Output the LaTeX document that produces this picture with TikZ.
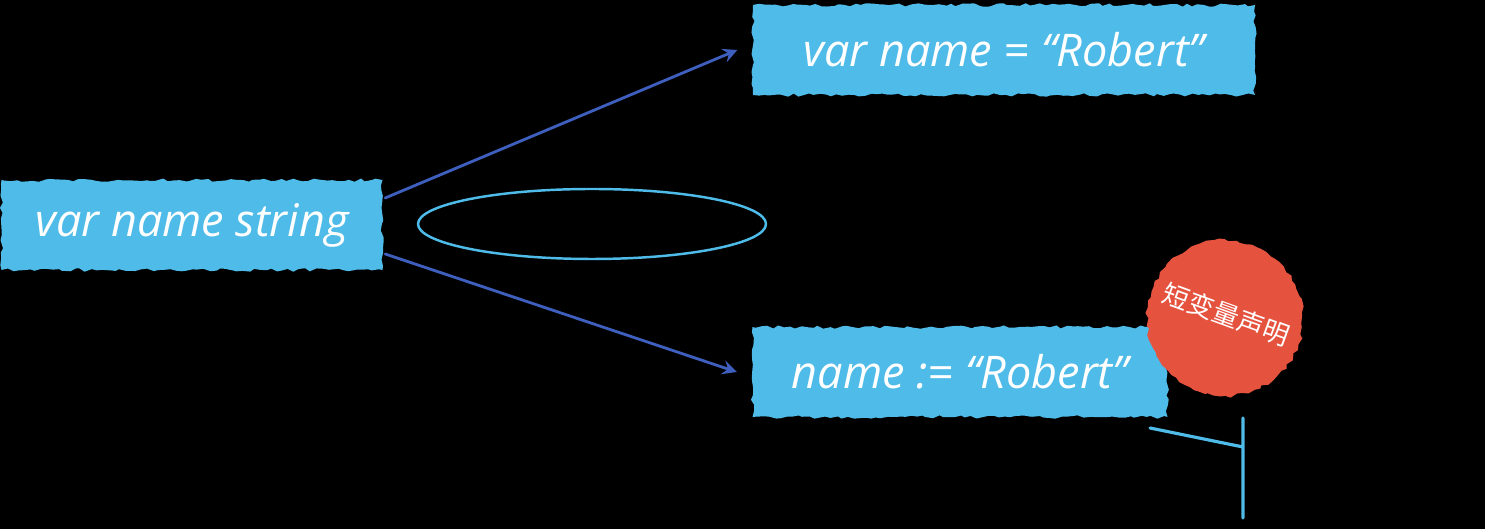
\documentclass[tikz,border=0pt]{standalone}
\usepackage{fontspec}
\setmainfont{Open Sans}
\newfontfamily\cjk{Noto Sans CJK SC}
\usetikzlibrary{shapes.geometric,decorations.pathmorphing}
\definecolor{boxblue}{HTML}{4FBBE8}
\definecolor{arrblue}{HTML}{3E5FBE}
\definecolor{stampred}{HTML}{E5533F}
\tikzset{
	codebox/.style={fill=boxblue,text=white,minimum height=0.9cm,inner sep=0pt,
		decorate,decoration={random steps,segment length=1.6pt,amplitude=0.5pt}},
	link/.style={arrblue,line width=0.8pt,->},
}
\begin{document}
\begin{tikzpicture}[font=\fontsize{12.8}{15}\selectfont\itshape,line join=round,line cap=round,>=stealth]
			\fill[black] (0,0) rectangle (14.85,5.29);
			\useasboundingbox (0,0) rectangle (14.85,5.29);
			\node[codebox,minimum width=3.81cm] (vs) at (1.92,3.04) {var name string};
			\node[codebox,minimum width=5.02cm] (vn) at (10.04,4.79) {var name = “Robert”};
			\node[codebox,minimum width=4.15cm] (nr) at (9.60,1.57) {name := “Robert”};
			\node[ellipse,draw=boxblue,line width=0.7pt,minimum width=3.48cm,minimum height=0.7cm] (el) at (5.92,3.05) {};
			\node[circle,fill=stampred,minimum size=1.56cm,inner sep=0pt,text=white,rotate=-20,
				font=\cjk\fontsize{7.5}{9}\selectfont,
				decorate,decoration={random steps,segment length=1.6pt,amplitude=0.5pt}] (st) at (12.25,2.11)
				{\raisebox{1mm}{短变量声明}};
			\draw[link] ([yshift=2.7mm,xshift=0.2mm]vs.east) -- ([xshift=-1.5mm]vn.west);
			\draw[link] ([yshift=-2.9mm,xshift=0.2mm]vs.east) -- ([xshift=-1.5mm]nr.west);
			\coordinate (t1) at (11.50,1.01);
			\coordinate (t2) at (12.43,0.82);
			\coordinate (t3) at (12.43,1.11);
			\coordinate (t4) at (12.43,0.11);
			\draw[boxblue,line width=0.9pt] (t1) -- (t2) (t3) -- (t4);
	\end{tikzpicture}
\end{document}
